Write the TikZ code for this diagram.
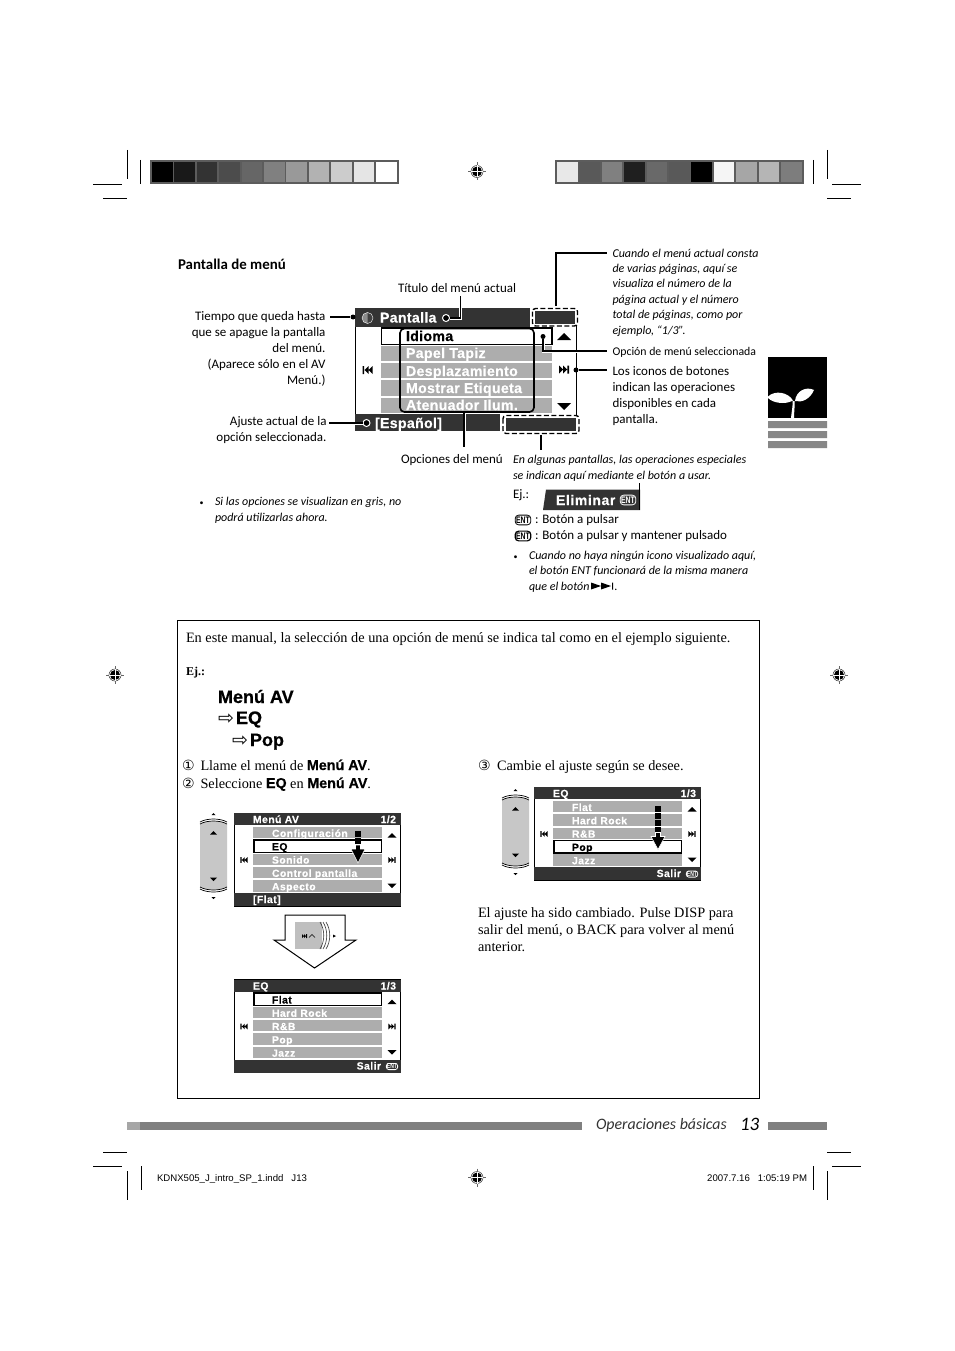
\documentclass[tikz,border=0pt]{standalone}
\usepackage{fontspec}
\setmainfont{Carlito}
\newfontfamily\srf{Liberation Serif}
\newfontfamily\lsf{Liberation Sans}
\newfontfamily\heavyf[BoldFeatures={FakeBold=0.6}]{Liberation Sans}
\newfontfamily\scrbigf[LetterSpace=2,BoldFeatures={FakeBold=0.4}]{Liberation Sans}
\newfontfamily\scrsmf[LetterSpace=4.2,BoldFeatures={FakeBold=0.3}]{Liberation Sans}
\newfontfamily\dejavu{DejaVu Sans}
\definecolor{rowgray}{gray}{0.68}
\definecolor{bardark}{gray}{0.2}
\definecolor{marks}{gray}{0.36}
\tikzset{
 lbl/.style={anchor=base west,inner sep=0pt,outer sep=0pt},
 lblr/.style={anchor=base east,inner sep=0pt,outer sep=0pt},
 body/.style={font=\fontsize{13}{16}\selectfont},
 note/.style={font=\fontsize{12}{15.4}\selectfont\itshape},
 bulletmark/.style={font=\fontsize{8}{10}\selectfont},
 serifb/.style={font=\srf\fontsize{14.3}{17}\selectfont},
 conn/.style={draw=black,line width=1.3pt,preaction={draw=white,line width=3pt}},
 dotb/.style={circle,fill=black,inner sep=0pt,minimum size=5pt},
 doto/.style={circle,draw=white,fill=black,line width=1pt,inner sep=0pt,minimum size=7pt},
 dashbox/.style={draw=black,line width=1.4pt,dash pattern=on 5pt off 2.5pt,rounded corners=3pt},
 crop/.style={draw=black,line width=0.8pt},
 scrbig/.style={font=\scrbigf\bfseries\fontsize{14.2}{16}\selectfont},
 scrsm/.style={font=\scrsmf\bfseries\fontsize{10.4}{12}\selectfont},
 heavy/.style={font=\heavyf\bfseries\fontsize{18}{20}\selectfont},
 entnode/.style={draw=#1,text=#1,line width=0.8pt,rounded corners=3.5pt,inner xsep=1pt,inner ysep=1.6pt,font=\lsf\bfseries\fontsize{9.5}{10}\selectfont},
 entnode/.default=black,
 entsmall/.style={entnode=white,inner ysep=0.7pt,inner xsep=0.6pt,font=\lsf\bfseries\fontsize{7}{8}\selectfont,rounded corners=2.5pt}
}
\newcommand\skipR[3]{\fill[black,shift={(#1,#2)},scale=#3] (-5,-4)--(-1,0)--(-5,4)--cycle (-1,-4)--(3,0)--(-1,4)--cycle (3.4,-4) rectangle (5,4);}
\newcommand\skipL[3]{\fill[black,shift={(#1,#2)},scale=#3] (5,-4)--(1,0)--(5,4)--cycle (1,-4)--(-3,0)--(1,4)--cycle (-3.4,-4) rectangle (-5,4);}
\newcommand\triU[3]{\fill[black,shift={(#1,#2)},scale=#3] (-1,1)--(0,0)--(1,1)--cycle;}
\newcommand\triD[3]{\fill[black,shift={(#1,#2)},scale=#3] (-1,-1)--(0,0)--(1,-1)--cycle;}
\newcommand\regmark[3]{%
 \node[circle,draw=black!70,line width=0.6pt,inner sep=0pt,minimum size=12pt] (#3) at (#1,#2) {};
 \fill[black] (#1,#2) circle (5pt);
 \draw[white,line width=0.6pt] (#1-6,#2)--(#1+6,#2) (#1,#2-6)--(#1,#2+6);
 \draw[black!60,line width=0.5pt] (#1-9,#2)--(#1-6,#2) (#1+6,#2)--(#1+9,#2) (#1,#2-9)--(#1,#2-6) (#1,#2+6)--(#1,#2+9);}
\newcommand\smallscreen[8]{%
 \begin{scope}[shift={(#2,#3)}]
 \fill[white] (0,0) rectangle (166.5,93);
 \draw[black,line width=0.7pt] (0,0) rectangle (166.5,93);
 \fill[bardark] (0,0) rectangle (166.5,12);
 \fill[bardark] (0,80) rectangle (166.5,93);
 \node[lbl,scrsm,text=white] (#1-title) at (19,10) {#4};
 \node[lblr,scrsm,text=white] (#1-page) at (162,10) {#5};
 \foreach \t [count=\i] in {#7}{%
  \pgfmathsetmacro\ry{14+13.3*(\i-1)}
  \ifnum\i=#6\relax
   \draw[black,fill=white,line width=1.6pt] (20,\ry-0.5) rectangle (147.5,\ry+12);
   \node[lbl,scrsm,text=black] (#1-r\i) at (38,\ry+10) {\t};
  \else
   \fill[rowgray] (19,\ry) rectangle (148,\ry+11.3);
   \node[lbl,scrsm,text=white] (#1-r\i) at (38,\ry+10) {\t};
  \fi}
 \skipL{10}{47}{0.72}
 \skipR{158}{47}{0.72}
 \triU{158}{20}{4.5}
 \triD{158}{75}{4.5}
 #8
 \end{scope}}
\newcommand\knob[2]{%
 \begin{scope}[shift={(#1,#2)}]
 \fill[black!22] (0,9) .. controls (7,5) and (20,5) .. (27,9) -- (27,72) .. controls (20,76) and (7,76) .. (0,72) -- cycle;
 \draw[black,line width=0.7pt] (0,9) .. controls (7,5) and (20,5) .. (27,9) (0,7) .. controls (7,3) and (20,3) .. (27,7) (0,72) .. controls (7,76) and (20,76) .. (27,72) (0,74) .. controls (7,78) and (20,78) .. (27,74);
 \triU{13.5}{16}{3.5}
 \triD{13.5}{66}{3.5}
 \triU{13.5}{-2}{2}
 \triD{13.5}{84}{2}
 \end{scope}}
\newcommand\dropsq[2]{\fill[black] (#1-3,#2-3) rectangle (#1+3,#2+3);}
\newcommand\drophead[3]{\draw[white,line width=0.6pt,fill=black] (#1-2.5,#2-4)--(#1+2.5,#2-4)--(#1+2.5,#2)--(#1+7,#2)--(#1,#3)--(#1-7,#2)--(#1-2.5,#2)--cycle;}
\begin{document}
\begin{tikzpicture}[x=1pt,y=-1pt]
\useasboundingbox (0,0) rectangle (954,1351);
\fill[white] (0,0) rectangle (954,1351);

\draw[crop] (93,184)--(122,184) (103,198)--(127,198) (127,150)--(127,179) (140.5,160)--(140.5,184);
\draw[crop] (832,184)--(861,184) (827,198)--(851,198) (827,150)--(827,179) (813.5,160)--(813.5,184);
\draw[crop] (103,1152)--(127,1152) (93,1166)--(122,1166) (127.5,1171)--(127.5,1200) (141,1166)--(141,1190);
\draw[crop] (827,1152)--(851,1152) (832,1166)--(861,1166) (827,1171)--(827,1200) (813.5,1166)--(813.5,1190);

\fill[marks] (150,160) rectangle (399,184);
\foreach \g [count=\i from 0] in {0,10,20,30,40,50,60,70,80,90,100}
 \fill[black!\the\numexpr100-\g\relax] (152+\i*22.4,162) rectangle (172.6+\i*22.4,182);
\fill[marks] (555,160) rectangle (804,184);
\foreach \g [count=\i from 0] in {91,35,50,12,41,35,0,96,65,71,49}
 \fill[black!\the\numexpr100-\g\relax] (557+\i*22.4,162) rectangle (577.6+\i*22.4,182);

\regmark{477}{171.5}{regA}
\regmark{115}{675}{regB}
\regmark{839}{675}{regC}
\regmark{477}{1177.5}{regD}

\fill[black] (768,357) rectangle (827,418);
\fill[white] (768,396.5) .. controls (775,390) and (788,392) .. (793,400.5) .. controls (785,405) and (773,403) .. (768,398) -- cycle;
\fill[white] (795,401) .. controls (796,391) and (806,386) .. (814,390) .. controls (810,399) and (802,403) .. (795,401) -- cycle;
\fill[white] (791,418) .. controls (791.5,412) and (793,406) .. (792.5,401) -- (794.5,401) .. controls (795,406) and (794,412) .. (794,418) -- cycle;
\fill[black!47] (768,421) rectangle (827,428) (768,431) rectangle (827,438) (768,441) rectangle (827,448);

\node[lbl,font=\bfseries\fontsize{14.9}{18}\selectfont] (head) at (178,269) {Pantalla de menú};
\fill[bardark] (355,308) rectangle (530,327);
\fill[bardark] (355,414) rectangle (500,431);
\draw[black,line width=0.8pt] (355,327)--(355,414) (576.5,326)--(576.5,415);
\fill[bardark] (535,311) rectangle (575,324);
\fill[bardark] (506,418) rectangle (576,431);
\path[dashbox] (532.5,308.5) rectangle (577.5,326);
\path[dashbox] (503,415.5) rectangle (579,433.5);
\node[circle,fill=black!45,draw=white,line width=0.4pt,inner sep=0pt,minimum size=11pt] (clock) at (367.5,318) {};
\fill[black!75] (367.5,313) arc (90:-90:5pt) -- cycle;
\draw[black,fill=white,line width=1.4pt] (381.5,328) rectangle (552,344.5);
\foreach \r in {345.5,362.5,380,397.5} \fill[rowgray] (381,\r) rectangle (552,\r+15.5);
\draw[black,line width=1.6pt,rounded corners=4.5pt] (400,328.5) rectangle (534,412);
\node[lbl,scrbig,text=white] (tp) at (380,322.5) {Pantalla};
\node[lbl,scrbig,text=black] (t1) at (406,341) {Idioma};
\node[lbl,scrbig,text=white] (t2) at (406,358) {Papel Tapiz};
\node[lbl,scrbig,text=white] (t3) at (406,376) {Desplazamiento};
\node[lbl,scrbig,text=white] (t4) at (406,393) {Mostrar Etiqueta};
\node[lbl,scrbig,text=white] (t5) at (406,410) {Atenuador Ilum.};
\node[lbl,scrbig,text=white] (te) at (375,428) {[Español]};
\triU{564}{333}{7}
\triD{564}{410}{7}
\skipL{367.5}{370}{1}
\skipR{564}{369.5}{1}

\node[dotb] (dA) at (353,317) {};
\coordinate (cA) at (330,317);
\draw[conn] (cA)--(dA);
\node[doto] (dB) at (446,318) {};
\coordinate (cB) at (460.5,296);
\draw[conn] (cB)|-(dB);
\coordinate (cC) at (556,306);
\coordinate (cC2) at (607,253);
\draw[conn] (cC)|-(cC2);
\node[dotb] (dD) at (543,336.5) {};
\coordinate (cD) at (607,351);
\draw[conn] (dD)|-(cD);
\node[dotb] (dE) at (576,370) {};
\coordinate (cE) at (607,370);
\draw[conn] (dE)--(cE);
\node[doto] (dF) at (366.5,423) {};
\coordinate (cF) at (329,423);
\draw[conn] (cF)--(dF);
\coordinate (cG) at (464,413);
\coordinate (cG2) at (464,447);
\draw[conn] (cG)--(cG2);
\coordinate (cH) at (541,435);
\coordinate (cH2) at (541,450);
\draw[conn] (cH)--(cH2);

\node[lbl,body] (ltit) at (398,292) {Título del menú actual};
\node[lblr,body,align=right] (ltie) at (325.5,384) {Tiempo que queda hasta\\que se apague la pantalla\\del menú.\\(Aparece sólo en el AV\\Menú.)};
\node[lblr,body,align=right] (laju) at (326.5,441) {Ajuste actual de la\\opción seleccionada.};
\node[lbl,body] (lopc) at (401,463) {Opciones del menú};
\node[lbl,note,align=left] (lcua) at (612.5,334) {Cuando el menú actual consta\\de varias páginas, aquí se\\visualiza el número de la\\página actual y el número\\total de páginas, como por\\ejemplo, “1/3”.};
\node[lbl,font=\fontsize{11.8}{14}\selectfont] (lsel) at (612.5,355) {Opción de menú seleccionada};
\node[lbl,body,align=left] (lico) at (612.5,423) {Los iconos de botones\\indican las operaciones\\disponibles en cada\\pantalla.};
\node[lbl,note,align=left] (lalg) at (513,479) {En algunas pantallas, las operaciones especiales\\se indican aquí mediante el botón a usar.};
\node[lbl,body] (lej) at (513,498) {Ej.:};
\fill[bardark] (546,489.5) -- (640,489.5) -- (640,510) -- (543,510) -- cycle;
\coordinate (cI) at (639.5,483);
\coordinate (cI2) at (639.5,510);
\draw[black,line width=0.8pt] (cI)--(cI2);
\node[lbl,font=\scrsmf\bfseries\fontsize{14}{16}\selectfont,text=white] (lel) at (556,505) {Eliminar};
\node[entnode=white] (ent0) at (628,500) {\scalebox{0.72}[1]{ENT}};
\node[entnode] (ent1) at (523,520) {\scalebox{0.72}[1]{ENT}};
\node[entnode,line width=1.2pt] (ent2) at (523,536) {\scalebox{0.72}[1]{ENT}};
\node[lbl,body] (lb1) at (535,523) {: Botón a pulsar};
\node[lbl,body] (lb2) at (535,539) {: Botón a pulsar y mantener pulsado};
\node[lbl,bulletmark] (bul1) at (513.5,559) {•};
\node[lbl,note,align=left] (lcn) at (529,590) {Cuando no haya ningún icono visualizado aquí,\\el botón ENT funcionará de la misma manera\\que el botón};
\fill[black] (591,582.5)--(601,586)--(591,589.5)--cycle (601,582.5)--(611,586)--(601,589.5)--cycle (612,582.5) rectangle (613,589.5);
\node[lbl,note] (lcnp) at (614.5,590) {.};
\node[lbl,bulletmark] (bul2) at (199.5,505) {•};
\node[lbl,note,align=left] (lsi) at (215,521) {Si las opciones se visualizan en gris, no\\podrá utilizarlas ahora.};

\node[draw=black,line width=0.7pt,inner sep=0pt,minimum width=581.5pt,minimum height=478pt,anchor=north west] (frame) at (177.3,620) {};
\node[lbl,serifb] (sa) at (186,642) {En este manual, la selección de una opción de menú se indica tal como en el ejemplo siguiente.};
\node[lbl,font=\srf\bfseries\fontsize{12}{14}\selectfont] (sb) at (186,675) {Ej.:};
\node[lbl,heavy] (sm) at (218,703) {Menú AV};
\node[lbl,heavy] (se) at (236,724) {EQ};
\node[lbl,heavy] (sp) at (250,746) {Pop};
\node[lbl,font=\dejavu\fontsize{19}{20}\selectfont] (ar1) at (218,724) {⇨};
\node[lbl,font=\dejavu\fontsize{19}{20}\selectfont] (ar2) at (232,746) {⇨};
\node[lbl,font=\dejavu\fontsize{14}{16}\selectfont] (n1) at (182,770) {①};
\node[lbl,serifb] (s1) at (200.5,770) {Llame el menú de {\heavyf\bfseries Menú AV}.};
\node[lbl,font=\dejavu\fontsize{14}{16}\selectfont] (n2) at (182,788) {②};
\node[lbl,serifb] (s2) at (200.5,788) {Seleccione {\heavyf\bfseries EQ} en {\heavyf\bfseries Menú AV}.};
\node[lbl,font=\dejavu\fontsize{14}{16}\selectfont] (n3) at (478,770) {③};
\node[lbl,serifb] (s3) at (497,770) {Cambie el ajuste según se desee.};
\node[lbl,serifb,align=left] (s4) at (478,951) {El ajuste ha sido cambiado. Pulse DISP para\\salir del menú, o BACK para volver al menú\\anterior.};

\knob{200}{815}
\knob{502}{791}
\smallscreen{sA}{234}{813}{Menú AV}{1/2}{2}{Configuración,EQ,Sonido,Control pantalla,Aspecto}{\node[lbl,scrsm,text=white] (sA-b) at (19,90) {[Flat]};}
\smallscreen{sB}{234}{979.5}{EQ}{1/3}{1}{Flat,Hard Rock,R\&B,Pop,Jazz}{\node[lblr,scrsm,text=white] (sB-b) at (147,90) {Salir};\node[entsmall] (sB-e) at (158,87) {\scalebox{0.72}[1]{ENT}};}
\smallscreen{sC}{534}{787}{EQ}{1/3}{4}{Flat,Hard Rock,R\&B,Pop,Jazz}{\node[lblr,scrsm,text=white] (sC-b) at (147,90) {Salir};\node[entsmall] (sC-e) at (158,87) {\scalebox{0.72}[1]{ENT}};}

\dropsq{358}{833.5}
\dropsq{358}{840.5}
\drophead{358}{849}{863}
\dropsq{658}{809}
\dropsq{658}{816}
\dropsq{658}{823}
\dropsq{658}{830}
\drophead{658}{836.5}{849.5}

\draw[black,line width=1pt,fill=white] (285,915)--(345,915)--(345,940)--(356,940)--(314.5,968)--(274,940)--(285,940)--cycle;
\fill[black!25] (295,922) rectangle (322,949);
\draw[black!80,line width=0.6pt] (320,922) .. controls (325,930) and (325,941) .. (320,949) (323,922) .. controls (328,930) and (328,941) .. (323,949) (326,922) .. controls (331,930) and (331,941) .. (326,949);
\skipR{304.5}{936}{0.5}
\draw[black,line width=0.5pt] (309,937.5)--(312,934.5)--(315,937.5);
\fill[black] (333,934.5)--(336,936)--(333,937.5)--cycle;

\fill[black!50] (127,1122) rectangle (582,1130);
\fill[black!35] (127,1122) rectangle (140,1130);
\fill[black!50] (768,1122) rectangle (827,1130);
\node[lbl,font=\fontsize{15.9}{18}\selectfont\itshape,text=black!80] (fo) at (596,1129) {Operaciones básicas};
\node[lbl,font=\fontsize{19}{22}\selectfont\itshape] (fn) at (740,1130) {13};
\node[lbl,font=\lsf\fontsize{9.6}{11}\selectfont] (fa) at (157,1181) {KDNX505\_J\_intro\_SP\_1.indd\hspace{8pt}J13};
\node[lblr,font=\lsf\fontsize{9.6}{11}\selectfont] (fb) at (807,1181) {2007.7.16\hspace{8pt}1:05:19 PM};
\end{tikzpicture}
\end{document}
